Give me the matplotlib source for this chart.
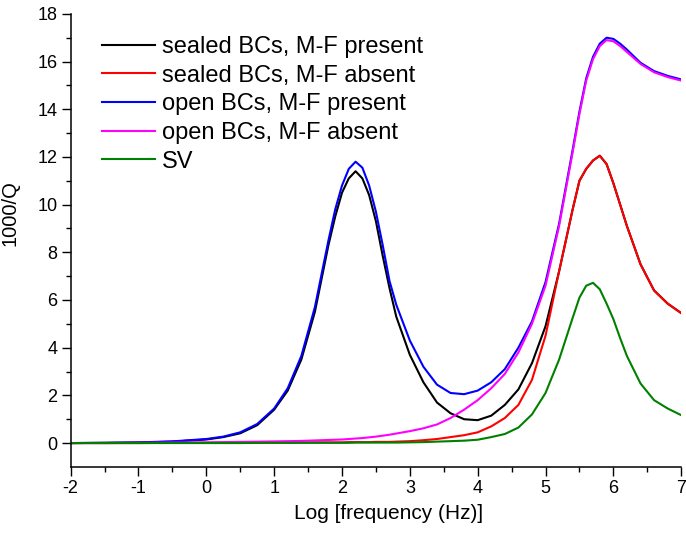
import matplotlib.pyplot as plt
from matplotlib.ticker import MultipleLocator, FixedLocator

plt.rcParams['font.family'] = ['Liberation Sans', 'DejaVu Sans']
plt.rcParams['axes.unicode_minus'] = False

# log10 frequency grid shared by all curves
log_f = [-2, -1.5, -1, -0.5, 0, 0.25, 0.5, 0.75, 1.0, 1.2, 1.4, 1.6, 1.8, 1.9,
         2.0, 2.1, 2.2, 2.3, 2.4, 2.5, 2.6, 2.7, 2.8, 3.0, 3.2, 3.4, 3.6, 3.8,
         4.0, 4.2, 4.4, 4.6, 4.8, 5.0, 5.2, 5.4, 5.5, 5.6, 5.7, 5.8, 5.9,
         6.0, 6.1, 6.2, 6.4, 6.6, 6.8, 7.0]

# attenuation 1000/Q
sealed_mf = [0.0, 0.01, 0.02, 0.06, 0.15, 0.25, 0.41, 0.75, 1.4, 2.2, 3.5, 5.5,
             8.3, 9.5, 10.5, 11.1, 11.4, 11.1, 10.4, 9.3, 7.85, 6.5, 5.3, 3.7,
             2.55, 1.7, 1.25, 1.0, 0.96, 1.15, 1.6, 2.25, 3.35, 4.9, 7.2, 9.8,
             11.0, 11.5, 11.85, 12.05, 11.7, 10.9, 10.0, 9.1, 7.5, 6.4, 5.85, 5.45]
sealed_nomf = [0.0, 0.0, 0.0, 0.01, 0.01, 0.01, 0.01, 0.01, 0.02, 0.02, 0.02, 0.03,
               0.03, 0.03, 0.03, 0.04, 0.04, 0.04, 0.04, 0.05, 0.05, 0.05, 0.06,
               0.08, 0.12, 0.17, 0.25, 0.33, 0.45, 0.7, 1.05, 1.6, 2.65, 4.5, 7.2,
               9.8, 11.0, 11.5, 11.85, 12.05, 11.7, 10.9, 10.0, 9.1, 7.5, 6.4, 5.85, 5.45]
open_mf = [0.0, 0.01, 0.03, 0.07, 0.17, 0.27, 0.45, 0.8, 1.45, 2.3, 3.65, 5.7, 8.5,
           9.8, 10.8, 11.5, 11.8, 11.55, 10.8, 9.7, 8.3, 6.8, 5.8, 4.3, 3.2, 2.45,
           2.1, 2.05, 2.2, 2.55, 3.1, 4.0, 5.1, 6.75, 9.2, 12.3, 13.9, 15.3, 16.2,
           16.75, 17.0, 16.95, 16.75, 16.5, 15.95, 15.6, 15.4, 15.25]
open_nomf = [0.0, 0.0, 0.01, 0.02, 0.03, 0.04, 0.05, 0.06, 0.07, 0.08, 0.09, 0.11,
             0.13, 0.14, 0.15, 0.17, 0.19, 0.21, 0.24, 0.27, 0.31, 0.35, 0.4, 0.5,
             0.62, 0.78, 1.05, 1.4, 1.8, 2.3, 2.9, 3.8, 5.0, 6.6, 9.1, 12.2, 13.8,
             15.2, 16.1, 16.65, 16.9, 16.85, 16.65, 16.4, 15.9, 15.55, 15.35, 15.2]
sv = [0.0, 0.0, 0.0, 0.0, 0.0, 0.0, 0.0, 0.01, 0.01, 0.01, 0.01, 0.01, 0.01, 0.01,
      0.01, 0.01, 0.02, 0.02, 0.02, 0.02, 0.02, 0.02, 0.02, 0.03, 0.04, 0.06, 0.08,
      0.1, 0.14, 0.25, 0.38, 0.65, 1.2, 2.1, 3.5, 5.25, 6.1, 6.6, 6.72, 6.45, 5.85,
      5.2, 4.4, 3.65, 2.5, 1.8, 1.45, 1.17]

series = [
    (sealed_mf, 'black', 'sealed BCs, M-F present'),
    (sealed_nomf, '#ff0000', 'sealed BCs, M-F absent'),
    (open_mf, '#0000ff', 'open BCs, M-F present'),
    (open_nomf, '#ff00ff', 'open BCs, M-F absent'),
    (sv, '#008000', 'SV'),
]

fig = plt.figure(figsize=(6.86, 5.33), dpi=100)
ax = fig.add_axes([0.103, 0.124, 0.890, 0.850])

for vals, col, lab in series:
    ax.plot(log_f, vals, color=col, lw=1.5, label=lab)

ax.set_xlim(-2, 7)
ax.set_ylim(-1, 18)
ax.xaxis.set_major_locator(MultipleLocator(1))
ax.xaxis.set_minor_locator(MultipleLocator(0.5))
ax.yaxis.set_major_locator(FixedLocator(range(0, 19, 2)))
ax.yaxis.set_minor_locator(FixedLocator(range(1, 18, 2)))

for s in ['top', 'right']:
    ax.spines[s].set_visible(False)
for s in ['left', 'bottom']:
    ax.spines[s].set_linewidth(1.1)

ax.tick_params(which='major', direction='out', length=6.5, width=1.0, labelsize=13, pad=3)
ax.tick_params(which='minor', direction='out', length=3.5, width=1.0)

ax.set_xlabel('Log [frequency (Hz)]', fontsize=15)
ax.set_ylabel('1000/Q', fontsize=14.5)
ax.xaxis.set_label_coords(0.52, -0.082)
ax.yaxis.set_label_coords(-0.083, 0.56)

ax.legend(loc='upper left', bbox_to_anchor=(0.051, 0.951), frameon=False,
          fontsize=17, handlelength=2.25, handletextpad=0.3, labelspacing=0.28,
          borderpad=0, borderaxespad=0)

fig.savefig('out.png', dpi=100)
